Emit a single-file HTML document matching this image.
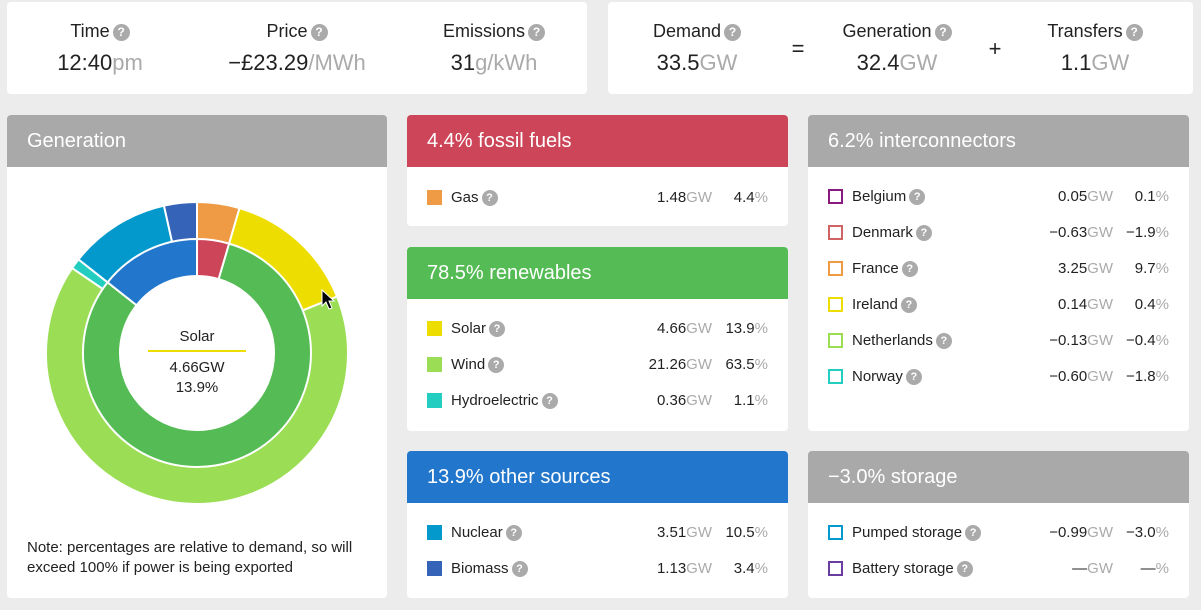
<!DOCTYPE html>
<html><head><meta charset="utf-8"><style>
*{margin:0;padding:0;box-sizing:border-box}
body{width:1201px;height:610px;background:#ececec;font-family:"Liberation Sans",sans-serif;color:#222;position:relative;overflow:hidden}
.card{position:absolute;background:#fff;border-radius:4px}
.col{position:absolute;text-align:center;width:200px}
.lab{position:absolute;top:19px;font-size:18px;width:100%;text-align:center}
.val{position:absolute;top:48px;font-size:22px;width:100%;text-align:center}
.u{color:#aaa}
.q{display:inline-block;width:17px;height:17px;border-radius:50%;background:#aaa;color:#fff;font-size:12px;font-weight:bold;line-height:17px;text-align:center;vertical-align:1px;margin-left:3px}
.hd{position:absolute;left:0;top:0;right:0;height:52px;color:#fff;font-size:20px;padding:15px 0 0 20px;border-radius:4px 4px 0 0}
.row{position:absolute;left:20px;right:20px;height:20px;font-size:15px}
.sq{position:absolute;left:0;top:2px;width:15px;height:15px}
.sq.o{background:#fff;border:2px solid}
.nm{position:absolute;left:24px;top:1px}
.gw{position:absolute;right:56px;top:1px;text-align:right}
.pc{position:absolute;right:0;top:1px;text-align:right}
.row .q{width:16px;height:16px;line-height:16px;font-size:11px}
</style></head><body>
<div class="card" style="left:7px;top:2px;width:580px;height:92px">
 <div class="col" style="left:-7px;width:200px;height:92px"><div class="lab">Time<span class="q">?</span></div><div class="val">12:40<span class="u">pm</span></div></div>
 <div class="col" style="left:190px;width:200px;height:92px"><div class="lab">Price<span class="q">?</span></div><div class="val">−£23.29<span class="u">/MWh</span></div></div>
 <div class="col" style="left:387px;width:200px;height:92px"><div class="lab">Emissions<span class="q">?</span></div><div class="val">31<span class="u">g/kWh</span></div></div>
</div>
<div class="card" style="left:608px;top:2px;width:585px;height:92px">
 <div class="col" style="left:-11px;width:200px;height:92px"><div class="lab">Demand<span class="q">?</span></div><div class="val">33.5<span class="u">GW</span></div></div>
 <div class="col" style="left:140px;width:100px;height:92px"><div class="val" style="top:34px">=</div></div>
 <div class="col" style="left:189px;width:200px;height:92px"><div class="lab">Generation<span class="q">?</span></div><div class="val">32.4<span class="u">GW</span></div></div>
 <div class="col" style="left:337px;width:100px;height:92px"><div class="val" style="top:34px">+</div></div>
 <div class="col" style="left:387px;width:200px;height:92px"><div class="lab">Transfers<span class="q">?</span></div><div class="val">1.1<span class="u">GW</span></div></div>
</div>

<div class="card" style="left:7px;top:115px;width:380px;height:483px">
 <div class="hd" style="background:#a9a9a9">Generation</div>
 <svg id="donut" width="380" height="483" style="position:absolute;left:0;top:0"></svg>
 <div style="position:absolute;left:0;top:213px;width:380px;text-align:center;font-size:15px">Solar</div>
 <div style="position:absolute;left:141px;top:235px;width:98px;height:2px;background:#eedd00"></div>
 <div style="position:absolute;left:0;top:243px;width:380px;text-align:center;font-size:15px;line-height:20px">4.66GW<br>13.9%</div>
 <div style="position:absolute;left:20px;top:423px;font-size:15px;line-height:20px">Note: percentages are relative to demand, so will<br>exceed 100% if power is being exported</div>
</div>

<div class="card" style="left:407px;top:115px;width:381px;height:111px">
 <div class="hd" style="background:#cd4558">4.4% fossil fuels</div>
 <div class="row" style="top:73px"><div class="sq" style="background:#ef9a45"></div><div class="nm">Gas<span class="q">?</span></div><div class="gw">1.48<span class="u">GW</span></div><div class="pc">4.4<span class="u">%</span></div></div>
</div>
<div class="card" style="left:407px;top:247px;width:381px;height:184px">
 <div class="hd" style="background:#55bb55">78.5% renewables</div>
 <div class="row" style="top:72px"><div class="sq" style="background:#eedd00"></div><div class="nm">Solar<span class="q">?</span></div><div class="gw">4.66<span class="u">GW</span></div><div class="pc">13.9<span class="u">%</span></div></div>
 <div class="row" style="top:108px"><div class="sq" style="background:#9bde55"></div><div class="nm">Wind<span class="q">?</span></div><div class="gw">21.26<span class="u">GW</span></div><div class="pc">63.5<span class="u">%</span></div></div>
 <div class="row" style="top:144px"><div class="sq" style="background:#23cdbf"></div><div class="nm">Hydroelectric<span class="q">?</span></div><div class="gw">0.36<span class="u">GW</span></div><div class="pc">1.1<span class="u">%</span></div></div>
</div>
<div class="card" style="left:407px;top:451px;width:381px;height:147px">
 <div class="hd" style="background:#2276cc">13.9% other sources</div>
 <div class="row" style="top:72px"><div class="sq" style="background:#0399cc"></div><div class="nm">Nuclear<span class="q">?</span></div><div class="gw">3.51<span class="u">GW</span></div><div class="pc">10.5<span class="u">%</span></div></div>
 <div class="row" style="top:108px"><div class="sq" style="background:#3563b8"></div><div class="nm">Biomass<span class="q">?</span></div><div class="gw">1.13<span class="u">GW</span></div><div class="pc">3.4<span class="u">%</span></div></div>
</div>

<div class="card" style="left:808px;top:115px;width:381px;height:316px">
 <div class="hd" style="background:#a9a9a9">6.2% interconnectors</div>
 <div class="row" style="top:72px"><div class="sq o" style="border-color:#8b1a7f"></div><div class="nm">Belgium<span class="q">?</span></div><div class="gw">0.05<span class="u">GW</span></div><div class="pc">0.1<span class="u">%</span></div></div>
 <div class="row" style="top:108px"><div class="sq o" style="border-color:#d06464"></div><div class="nm">Denmark<span class="q">?</span></div><div class="gw">−0.63<span class="u">GW</span></div><div class="pc">−1.9<span class="u">%</span></div></div>
 <div class="row" style="top:144px"><div class="sq o" style="border-color:#ef9a45"></div><div class="nm">France<span class="q">?</span></div><div class="gw">3.25<span class="u">GW</span></div><div class="pc">9.7<span class="u">%</span></div></div>
 <div class="row" style="top:180px"><div class="sq o" style="border-color:#eedd00"></div><div class="nm">Ireland<span class="q">?</span></div><div class="gw">0.14<span class="u">GW</span></div><div class="pc">0.4<span class="u">%</span></div></div>
 <div class="row" style="top:216px"><div class="sq o" style="border-color:#9bde55"></div><div class="nm">Netherlands<span class="q">?</span></div><div class="gw">−0.13<span class="u">GW</span></div><div class="pc">−0.4<span class="u">%</span></div></div>
 <div class="row" style="top:252px"><div class="sq o" style="border-color:#23cdbf"></div><div class="nm">Norway<span class="q">?</span></div><div class="gw">−0.60<span class="u">GW</span></div><div class="pc">−1.8<span class="u">%</span></div></div>
</div>
<div class="card" style="left:808px;top:451px;width:381px;height:147px">
 <div class="hd" style="background:#a9a9a9">−3.0% storage</div>
 <div class="row" style="top:72px"><div class="sq o" style="border-color:#0399cc"></div><div class="nm">Pumped storage<span class="q">?</span></div><div class="gw">−0.99<span class="u">GW</span></div><div class="pc">−3.0<span class="u">%</span></div></div>
 <div class="row" style="top:108px"><div class="sq o" style="border-color:#6a3ea0"></div><div class="nm">Battery storage<span class="q">?</span></div><div class="gw">—<span class="u">GW</span></div><div class="pc">—<span class="u">%</span></div></div>
</div>
<script>
(function(){
var svg=document.getElementById('donut'),cx=190,cy=238,h='';
function arc(r0,r1,a0,a1,c){
 function p(r,a){a=a*Math.PI/180;return [(cx+r*Math.sin(a)).toFixed(2),(cy-r*Math.cos(a)).toFixed(2)];}
 var l=(a1-a0)>180?1:0,A=p(r1,a0),B=p(r1,a1),C=p(r0,a1),D=p(r0,a0);
 return '<path d="M'+A+' A'+r1+' '+r1+' 0 '+l+' 1 '+B+' L'+C+' A'+r0+' '+r0+' 0 '+l+' 0 '+D+'Z" fill="'+c+'" stroke="#fff" stroke-width="2"/>';
}
function ring(r0,r1,d){var t=0,s=0;d.forEach(function(x){t+=x[0]});d.forEach(function(x){var a0=s/t*360;s+=x[0];h+=arc(r0,r1,a0,s/t*360,x[1]);});}
ring(113,151,[[4.4,'#ef9a45'],[13.9,'#eedd00'],[63.5,'#9bde55'],[1.1,'#23cdbf'],[10.5,'#0399cc'],[3.4,'#3563b8']]);
ring(77,114,[[4.4,'#cd4558'],[78.5,'#55bb55'],[13.9,'#2276cc']]);
h+='<path d="M315 175 L315 191 L319 187 L322 194 L325 193 L322 186 L327 186Z" fill="#000" stroke="#fff" stroke-width="1"/>';
svg.innerHTML=h;
})();
</script>
</body></html>
